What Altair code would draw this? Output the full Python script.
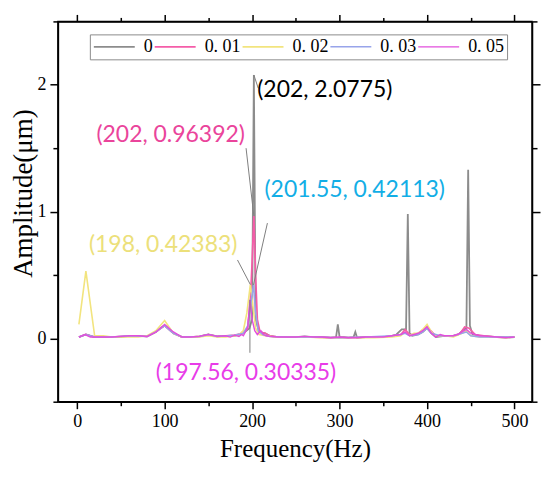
import altair as alt
import pandas as pd

# ---------------- data ----------------
series_names = ["0", "0.01", "0.02", "0.03", "0.05"]
series_colors = ["#8C8C8C", "#F45DA8", "#F2E47E", "#98A4EA", "#E24EDC"]
series_widths = [1.8, 1.4, 1.4, 1.4, 1.9]

freq_0 = [2, 10, 20, 30, 40, 50, 60, 70, 80, 90, 95, 100, 105, 110, 120, 130, 140, 150, 160, 170,
          180, 190, 197, 200, 202, 204, 208, 215, 220, 230, 240, 250, 260, 270, 280, 290, 296, 298, 300, 305,
          310, 316, 318, 320, 330, 340, 350, 360, 365, 371, 376, 378, 380, 383, 390, 395, 400, 405, 410, 420,
          430, 436, 442, 445, 447, 449, 452, 460, 470, 480, 490, 500]
amp_0 = [0.01, 0.03, 0.01, 0.01, 0.01, 0.01, 0.02, 0.02, 0.015, 0.05, 0.08, 0.1, 0.07, 0.04, 0.01, 0.01, 0.015, 0.03, 0.015, 0.02,
         0.02, 0.04, 0.08, 0.15, 2.0775, 0.15, 0.05, 0.04, 0.02, 0.01, 0.01, 0.01, 0.015, 0.01, 0.01, 0.005, 0.01, 0.11, 0.01, 0.01,
         0.005, 0.01, 0.05, 0.005, 0.01, 0.01, 0.01, 0.02, 0.03, 0.07, 0.07, 0.98, 0.04, 0.02, 0.03, 0.05, 0.08, 0.04, 0.01, 0.02,
         0.02, 0.03, 0.07, 0.08, 1.33, 0.1, 0.03, 0.02, 0.015, 0.01, 0.005, 0.01]

freq_001 = [2, 10, 20, 30, 40, 50, 60, 70, 80, 90, 100, 110, 120, 130, 140, 150, 160, 170, 180, 190,
            195, 198, 200, 202, 204, 206, 209, 215, 220, 230, 250, 270, 290, 310, 330, 350, 360, 370, 375, 380,
            385, 390, 400, 410, 420, 430, 438, 443, 448, 455, 465, 480, 500]
amp_001 = [0.01, 0.03, 0.01, 0.01, 0.01, 0.015, 0.02, 0.02, 0.015, 0.05, 0.1, 0.04, 0.01, 0.01, 0.015, 0.03, 0.015, 0.02, 0.025, 0.04,
           0.08, 0.3, 0.6, 0.96392, 0.5, 0.15, 0.05, 0.04, 0.02, 0.01, 0.01, 0.01, 0.005, 0.005, 0.01, 0.01, 0.02, 0.03, 0.07, 0.03,
           0.03, 0.04, 0.09, 0.02, 0.02, 0.02, 0.04, 0.09, 0.08, 0.03, 0.02, 0.01, 0.01]

freq_002 = [2, 10, 20, 30, 40, 50, 60, 70, 80, 90, 100, 110, 120, 130, 140, 150, 160, 170, 180, 185,
            190, 194, 198, 201, 204, 208, 215, 225, 240, 260, 280, 300, 320, 340, 360, 370, 375, 380, 385, 390,
            395, 400, 405, 410, 420, 430, 440, 445, 450, 460, 475, 490, 500]
amp_002 = [0.11, 0.53, 0.02, 0.02, 0.01, 0.01, 0.01, 0.01, 0.02, 0.06, 0.14, 0.04, 0.01, 0.01, 0.01, 0.02, 0.01, 0.01, 0.02, 0.03,
           0.06, 0.2, 0.42383, 0.25, 0.08, 0.03, 0.02, 0.01, 0.01, 0.01, 0.005, 0.005, 0.005, 0.005, 0.01, 0.02, 0.05, 0.02, 0.04, 0.04,
           0.07, 0.11, 0.05, 0.02, 0.02, 0.01, 0.04, 0.06, 0.02, 0.01, 0.01, 0.005, 0.01]

freq_003 = [2, 10, 20, 40, 60, 80, 90, 100, 110, 120, 140, 150, 160, 180, 190, 195, 198, 201.55, 204, 207,
            212, 220, 240, 270, 300, 330, 360, 370, 375, 380, 390, 395, 400, 405, 415, 430, 440, 445, 450, 460,
            480, 500]
amp_003 = [0.01, 0.03, 0.01, 0.01, 0.02, 0.015, 0.05, 0.1, 0.04, 0.01, 0.015, 0.03, 0.015, 0.025, 0.04, 0.1, 0.25, 0.42113, 0.2, 0.06,
           0.03, 0.015, 0.01, 0.01, 0.005, 0.01, 0.02, 0.03, 0.04, 0.02, 0.03, 0.05, 0.08, 0.04, 0.02, 0.02, 0.04, 0.05, 0.02, 0.01,
           0.01, 0.01]

freq_005 = [2, 9, 15, 20, 30, 40, 50, 60, 70, 80, 90, 100, 110, 120, 130, 140, 150, 160, 170, 175,
            180, 185, 188, 190, 193, 195, 197.56, 200, 203, 206, 210, 213, 216, 220, 230, 240, 250, 260, 270, 280,
            290, 300, 310, 320, 330, 340, 350, 360, 370, 375, 380, 385, 390, 395, 400, 405, 410, 415, 420, 425,
            430, 435, 440, 445, 450, 455, 460, 470, 480, 490, 500]
amp_005 = [0.01, 0.03, 0.01, 0.01, 0.01, 0.01, 0.015, 0.02, 0.02, 0.015, 0.05, 0.11, 0.05, 0.01, 0.01, 0.015, 0.03, 0.015, 0.02, 0.01,
           0.025, 0.015, 0.03, 0.02, 0.06, 0.09, 0.30335, 0.15, 0.06, 0.03, 0.06, 0.03, 0.02, 0.015, 0.01, 0.01, 0.01, 0.015, 0.01, 0.01,
           0.005, 0.01, 0.005, 0.005, 0.01, 0.01, 0.01, 0.02, 0.03, 0.05, 0.02, 0.03, 0.04, 0.06, 0.09, 0.04, 0.01, 0.03, 0.02, 0.02,
           0.02, 0.03, 0.05, 0.07, 0.04, 0.03, 0.02, 0.015, 0.01, 0.005, 0.01]

# annotations: peak point, label anchor (data units), leader-line end
ann_labels = ["(202, 2.0775)", "(202, 0.96392)", "(201.55, 0.42113)", "(198, 0.42383)", "(197.56, 0.30335)"]
ann_colors = ["#000000", "#EA449B", "#12AEE6", "#ECE07A", "#E83CE8"]
ann_peak_x = [202, 202, 201.55, 198, 197.56]
ann_peak_y = [2.0775, 0.96392, 0.42113, 0.42383, 0.30335]
ann_text_x = [283.1, 106.9, 317.3, 98.3, 193.0]
ann_text_y = [1.957, 1.602, 1.173, 0.738, -0.272]
ann_line_x = [207.0, 193.1, 217.5, 183.3, 197.5]
ann_line_y = [1.973, 1.50, 0.909, 0.618, -0.114]

x_ticks = list(range(0, 501, 50))
y_ticks = [-0.5, 0, 0.5, 1, 1.5, 2, 2.5]

# ---------------- tables ----------------
freqs = [freq_0, freq_001, freq_002, freq_003, freq_005]
amps = [amp_0, amp_001, amp_002, amp_003, amp_005]
rows = []
for i, (name, fs, as_) in enumerate(zip(series_names, freqs, amps, strict=True)):
    for f, a in zip(fs, as_, strict=True):
        rows.append({"series": name, "idx": i, "freq": f, "amp": a})
df = pd.DataFrame(rows)

ann = pd.DataFrame({
    "label": ann_labels, "color": ann_colors,
    "px": ann_peak_x, "py": ann_peak_y,
    "tx": ann_text_x, "ty": ann_text_y,
    "lx": ann_line_x, "ly": ann_line_y,
})

xscale = alt.Scale(domain=[-22, 520], nice=False, zero=False)
yscale = alt.Scale(domain=[-0.5, 2.5], nice=False, zero=False)

serif = "Liberation Serif"
common_axis = dict(
    grid=False, domainColor="black", domainWidth=1.5, tickColor="black", tickWidth=1.5,
    labelColor="black", labelFont=serif, labelFontSize=18,
)

x_major = "datum.value % 100 === 0"
y_major = "datum.value % 1 === 0"

x_bottom = alt.Axis(
    orient="bottom", values=x_ticks, title="Frequency(Hz)",
    labelExpr=f"{x_major} ? format(datum.value, 'd') : ''",
    tickSize={"condition": {"test": x_major, "value": 7}, "value": 4},
    labelPadding=4, titlePadding=6, titleFont=serif, titleFontSize=25,
    titleFontWeight="normal", titleColor="black", **common_axis)
y_left = alt.Axis(
    orient="left", values=y_ticks, title="Amplitude(μm)",
    labelExpr=f"{y_major} ? format(datum.value, 'd') : ''",
    tickSize={"condition": {"test": y_major, "value": 8}, "value": 5},
    labelPadding=4, titleFont=serif, titleFontSize=27,
    titleX=-34, titleY=172, titleBaseline="middle", titleAlign="center", titleAngle=270,
    titleFontWeight="normal", titleColor="black", **common_axis)
x_top = alt.Axis(
    orient="top", values=x_ticks, title=None, labels=False,
    tickSize={"condition": {"test": x_major, "value": 7}, "value": 4}, **common_axis)
y_right = alt.Axis(
    orient="right", values=y_ticks, title=None, labels=False,
    tickSize={"condition": {"test": y_major, "value": 8}, "value": 5}, **common_axis)

lines = alt.Chart(df).mark_line(clip=True).encode(
    x=alt.X("freq:Q", scale=xscale, axis=x_bottom),
    y=alt.Y("amp:Q", scale=yscale, axis=y_left),
    color=alt.Color(
        "series:N",
        scale=alt.Scale(domain=series_names, range=series_colors),
        sort=series_names,
        legend=alt.Legend(
            orient="none", legendX=32, legendY=13, direction="horizontal",
            title=None, symbolType="stroke", symbolSize=1681, symbolStrokeWidth=1.5,
            clipHeight=19, labelFont=serif, labelFontSize=18, labelColor="black",
            labelOffset=8, columnPadding=1, padding=3, strokeColor="#8C8C8C",
            fillColor="white", labelExpr="replace(datum.label, '.', '. ')",
        ),
    ),
    strokeWidth=alt.StrokeWidth(
        "series:N", scale=alt.Scale(domain=series_names, range=series_widths), legend=None),
    order=alt.Order("idx:Q"),
)

frame = alt.Chart(ann).mark_point(opacity=0).encode(
    x=alt.X("px:Q", scale=xscale, axis=x_top),
    y=alt.Y("py:Q", scale=yscale, axis=y_right),
)

leaders = alt.Chart(ann).mark_rule(color="#7F7F7F", strokeWidth=1).encode(
    x=alt.X("lx:Q", scale=xscale, axis=None),
    y=alt.Y("ly:Q", scale=yscale, axis=None),
    x2="px:Q", y2="py:Q",
)

texts = alt.Chart(ann).mark_text(font="Lato", fontSize=23, align="center", baseline="middle").encode(
    x=alt.X("tx:Q", scale=xscale, axis=None),
    y=alt.Y("ty:Q", scale=yscale, axis=None),
    text="label:N",
    color=alt.Color("color:N", scale=None),
)

chart = alt.layer(lines, leaders, texts, frame).resolve_axis(
    x="independent", y="independent"
).properties(
    width=475, height=381,
    autosize=alt.AutoSizeParams(type="none"),
    padding={"left": 50, "top": 13, "right": 10, "bottom": 70},
    background="white",
).configure_view(stroke="black", strokeWidth=1.5)

chart.save("out.html", embed_options={"renderer": "svg", "actions": False})
